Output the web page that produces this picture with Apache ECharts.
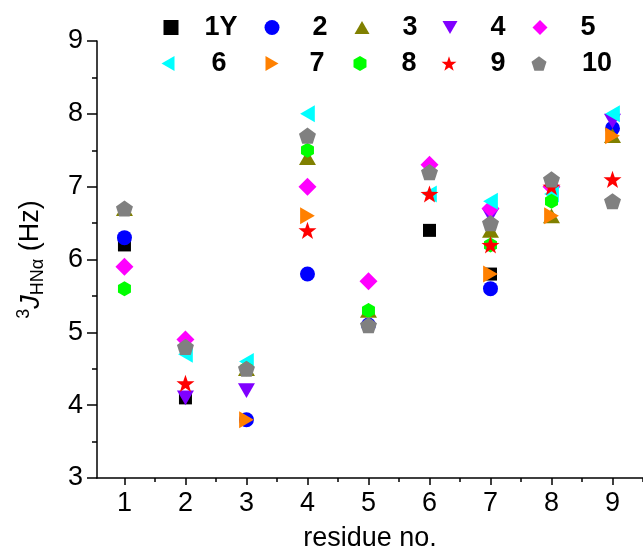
<!DOCTYPE html>
<html>
<head>
<meta charset="utf-8">
<script src="https://cdn.jsdelivr.net/npm/echarts@6/dist/echarts.min.js"></script>
<style>
html,body{margin:0;padding:0;background:#fff;}
#main{width:643px;height:557px;}
</style>
</head>
<body>
<div id="main"></div>
<script>
// 残基编号
var residues = [1, 2, 3, 4, 5, 6, 7, 8, 9];
var xTicks = [1, 2, 3, 4, 5, 6, 7, 8, 9];
var xMinorTicks = [1.5, 2.5, 3.5, 4.5, 5.5, 6.5, 7.5, 8.5, 9.5];
// 各肽的 3J(HN,Hα) 值, null 表示图上看不到
var s1Y = [6.2, 4.1, null, null, null, 6.4, 5.8, null, null];
var s2  = [6.3, null, 3.8, 5.8, 5.1, null, 5.6, null, 7.8];
var s3  = [6.7, null, 4.5, 7.4, 5.3, null, 6.4, 6.6, 7.7];
var s4  = [null, 4.1, 4.2, null, null, null, 6.6, null, 7.9];
var s5  = [5.9, 4.9, null, 7.0, 5.7, 7.3, 6.7, 7.0, null];
var s6  = [null, 4.7, 4.6, 8.0, null, 6.9, 6.8, 6.9, 8.0];
var s7  = [null, null, 3.8, 6.6, null, null, 5.8, 6.6, 7.7];
var s8  = [5.6, null, 4.5, 7.5, 5.3, null, 6.2, 6.8, null];
var s9  = [null, 4.3, null, 6.4, null, 6.9, 6.2, 7.0, 7.1];
var s10 = [6.7, 4.8, 4.5, 7.7, 5.1, 7.2, 6.5, 7.1, 6.8];

var names = ['1Y', '2', '3', '4', '5', '6', '7', '8', '9', '10'];
var values = [s1Y, s2, s3, s4, s5, s6, s7, s8, s9, s10];

// 自定义符号
var triUp = 'path://M0,-8.66L10,8.66L-10,8.66Z';
var triDown = 'path://M-10,-8.66L10,-8.66L0,8.66Z';
var triLeft = 'path://M-8.66,0L8.66,-10L8.66,10Z';
var triRight = 'path://M8.66,0L-8.66,-10L-8.66,10Z';
var hexagon = 'path://M0,-10L8.66,-5L8.66,5L0,10L-8.66,5L-8.66,-5Z';
var star = 'path://M0,-10L2.35,-3.24L9.51,-3.09L3.8,1.24L5.88,8.09L0,4L-5.88,8.09L-3.8,1.24L-9.51,-3.09L-2.35,-3.24Z';
var pentagon = 'path://M0,-10L9.51,-3.09L5.88,8.09L-5.88,8.09L-9.51,-3.09Z';

var styles = [
    {symbol: 'rect', size: 13, color: '#000000'},
    {symbol: 'circle', size: 15, color: '#0000ff'},
    {symbol: triUp, size: 17, color: '#808000'},
    {symbol: triDown, size: 17, color: '#8000ff'},
    {symbol: 'diamond', size: 18, color: '#ff00ff'},
    {symbol: triLeft, size: 17, color: '#00ffff'},
    {symbol: triRight, size: 17, color: '#ff8000'},
    {symbol: hexagon, size: 15, color: '#00ff00'},
    {symbol: star, size: 18, color: '#ff0000'},
    {symbol: pentagon, size: 17, color: '#808080'}
];

// 图例位置: 图标中心 / 文字中心 / 行
var legIcon = [166, 267, 357, 445, 535, 164, 268, 356, 444, 534];
var legText = [216, 315, 405, 493, 583, 215, 313, 405, 493, 592];
var legTop = [9, 9, 9, 9, 9, 45, 45, 45, 45, 45];

var font = '"Liberation Sans", Arial, sans-serif';

var series = names.map(function(name, i){
    var data = [];
    values[i].forEach(function(v, k){
        if (v !== null) data.push([residues[k], v]);
    });
    return {
        name: name,
        type: 'scatter',
        data: data,
        symbol: styles[i].symbol,
        symbolSize: styles[i].size,
        symbolKeepAspect: true,
        itemStyle: {color: styles[i].color, opacity: 1},
        z: 2 + i
    };
});

var legends = names.map(function(name, i){
    var w = Math.round(2 * (legText[i] - legIcon[i] - 12.5));
    return {
        data: [{name: name, icon: styles[i].symbol}],
        left: legIcon[i] - 7.5,
        top: legTop[i],
        itemWidth: 15,
        itemHeight: 15,
        formatter: function(n){ return '{t|' + n + '}'; },
        textStyle: {
            rich: {
                t: {width: w, align: 'center', fontSize: 27, fontWeight: 'bold',
                    fontFamily: font, color: '#000', lineHeight: 30}
            }
        }
    };
});

var myChart = echarts.init(document.getElementById('main'));
var option = {
    animation: false,
    backgroundColor: '#fff',
    legend: legends,
    grid: {left: 97, right: 0, top: 41, bottom: 70},
    xAxis: [{
        type: 'value',
        min: 0.55,
        max: 9.5,
        name: 'residue no.',
        nameLocation: 'middle',
        nameGap: 47,
        nameTextStyle: {fontSize: 27, fontFamily: font, color: '#000'},
        axisLine: {show: true, lineStyle: {color: '#000', width: 1.5}},
        axisTick: {show: true, length: 7, customValues: xTicks, lineStyle: {color: '#000', width: 1.5}},
        axisLabel: {customValues: xTicks, fontSize: 27, fontFamily: font, color: '#000', margin: 12},
        splitLine: {show: false}
    }, {
        type: 'value',
        position: 'bottom',
        min: 0.55,
        max: 9.5,
        axisLine: {show: false},
        axisTick: {show: true, length: 4, customValues: xMinorTicks, lineStyle: {color: '#000', width: 1.5}},
        axisLabel: {show: false},
        splitLine: {show: false}
    }],
    yAxis: {
        type: 'value',
        min: 3,
        max: 9,
        interval: 1,
        name: '{sup|3}{j|J}{sub|HNα}{n| (Hz)}',
        nameLocation: 'middle',
        nameGap: 50,
        nameTextStyle: {
            fontFamily: font,
            color: '#000',
            rich: {
                sup: {fontSize: 18, verticalAlign: 'top', lineHeight: 32, fontFamily: font, color: '#000'},
                j: {fontSize: 27, fontStyle: 'italic', lineHeight: 32, fontFamily: font, color: '#000'},
                sub: {fontSize: 18, verticalAlign: 'bottom', lineHeight: 32, fontFamily: font, color: '#000'},
                n: {fontSize: 27, lineHeight: 32, fontFamily: font, color: '#000'}
            }
        },
        axisLine: {show: true, lineStyle: {color: '#000', width: 1.5}},
        axisTick: {show: true, length: 10, lineStyle: {color: '#000', width: 1.5}},
        minorTick: {show: true, splitNumber: 2, length: 5, lineStyle: {color: '#000', width: 1.5}},
        axisLabel: {fontSize: 27, fontFamily: font, color: '#000', margin: 14},
        splitLine: {show: false}
    },
    series: series
};
myChart.setOption(option);
window.onresize = function(){
    myChart.resize();
};
</script>
</body>
</html>
